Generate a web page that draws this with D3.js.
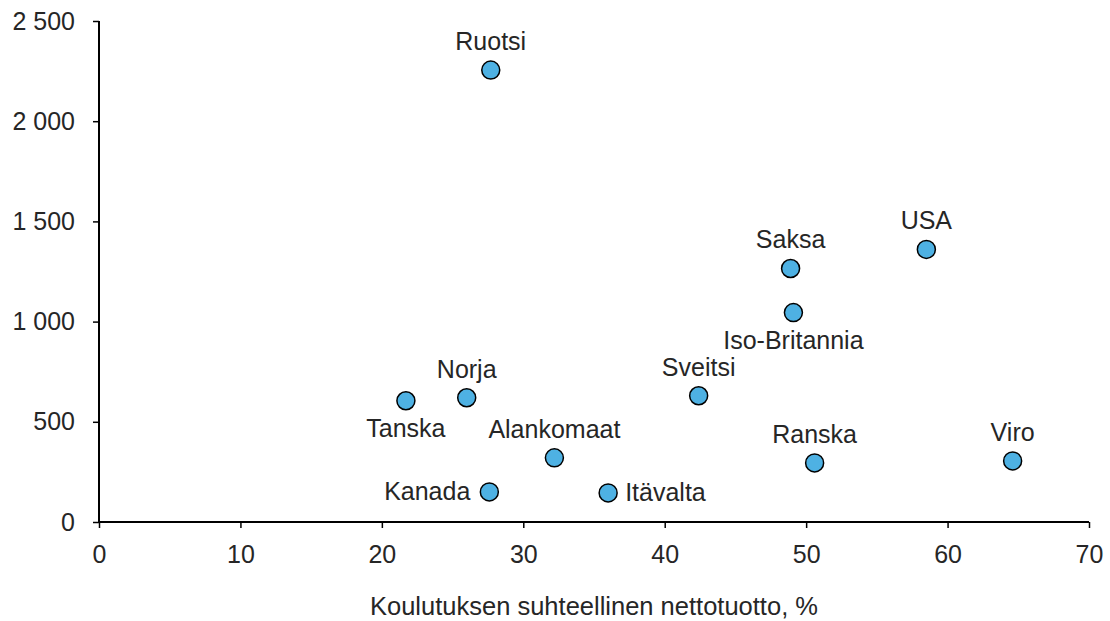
<!DOCTYPE html>
<html>
<head>
<meta charset="utf-8">
<script src="https://cdn.jsdelivr.net/npm/d3@7"></script>
<style>
	body { margin: 0; background: #fff; }
	text { font-family: "Liberation Sans", Arial, sans-serif; fill: #262626; }
</style>
</head>
<body>
<div id="chart"></div>
<script>
// Maat ja arvot
const countries = ["Ruotsi", "Saksa", "USA", "Iso-Britannia", "Sveitsi", "Norja", "Tanska", "Alankomaat", "Ranska", "Viro", "Kanada", "Itävalta"];
const returns = [27.7, 48.9, 58.5, 49.1, 42.4, 26.0, 21.7, 32.2, 50.6, 64.6, 27.6, 36.0];
const values = [2255, 1265, 1360, 1045, 630, 620, 605, 320, 295, 305, 150, 145];
const xTickValues = [0, 10, 20, 30, 40, 50, 60, 70];
const yTickValues = [0, 500, 1000, 1500, 2000, 2500];
const xTitle = "Koulutuksen suhteellinen nettotuotto, %";

// label side per point
const labelSide = ["top", "top", "top", "bottom", "top", "top", "bottom", "top", "top", "top", "left", "right"];

const width = 1110;
const height = 621;
const margin = { top: 21, right: 21, bottom: 99, left: 99 };
const fontSize = 25;

const svg = d3
	.select("#chart")
	.append("svg")
	.attr("width", width)
	.attr("height", height);

const xScale = d3.scaleLinear().domain([0, 70]).range([margin.left, width - margin.right]);
const yScale = d3.scaleLinear().domain([0, 2500]).range([height - margin.bottom, margin.top]);

const fmt = (d) => d3.format(",")(d).replace(",", " ");

const xAxis = d3.axisBottom(xScale).tickValues(xTickValues).tickSize(6).tickPadding(17);
const yAxis = d3.axisLeft(yScale).tickValues(yTickValues).tickSize(6).tickPadding(18).tickFormat(fmt);

svg
	.append("g")
	.attr("class", "x-axis")
	.attr("transform", `translate(0,${yScale(0)})`)
	.call(xAxis);

svg
	.append("g")
	.attr("class", "y-axis")
	.attr("transform", `translate(${xScale(0)},0)`)
	.call(yAxis);

svg.selectAll(".domain").attr("stroke", "#000").attr("stroke-width", 2);
svg.selectAll(".tick line").attr("stroke", "#000").attr("stroke-width", 1.5);
svg.selectAll(".tick text").attr("font-size", fontSize).attr("fill", "#262626");
svg.select(".x-axis").selectAll(".domain").attr("d", `M${xScale(0)},0H${xScale(70)}`);
svg.select(".y-axis").selectAll(".domain").attr("d", `M0,${yScale(0)}V${yScale(2500)}`);

svg
	.append("text")
	.attr("x", (xScale(0) + xScale(70)) / 2)
	.attr("y", 615)
	.attr("text-anchor", "middle")
	.attr("font-size", 25.5)
	.text(xTitle);

const points = countries.map((c, i) => ({ name: c, x: returns[i], y: values[i], side: labelSide[i] }));

svg
	.append("g")
	.selectAll("circle")
	.data(points)
	.join("circle")
	.attr("cx", (d) => xScale(d.x))
	.attr("cy", (d) => yScale(d.y))
	.attr("r", 9)
	.attr("fill", "#4EB1E3")
	.attr("stroke", "#000")
	.attr("stroke-width", 1.5);

svg
	.append("g")
	.selectAll("text")
	.data(points)
	.join("text")
	.attr("font-size", fontSize)
	.attr("x", (d) => {
		const cx = xScale(d.x);
		if (d.side === "left") return cx - 19;
		if (d.side === "right") return cx + 17;
		return cx;
	})
	.attr("y", (d) => {
		const cy = yScale(d.y);
		if (d.side === "top") return cy - 20;
		if (d.side === "bottom") return cy + 36;
		return cy + 8;
	})
	.attr("text-anchor", (d) => (d.side === "left" ? "end" : d.side === "right" ? "start" : "middle"))
	.text((d) => d.name);
</script>
</body>
</html>
